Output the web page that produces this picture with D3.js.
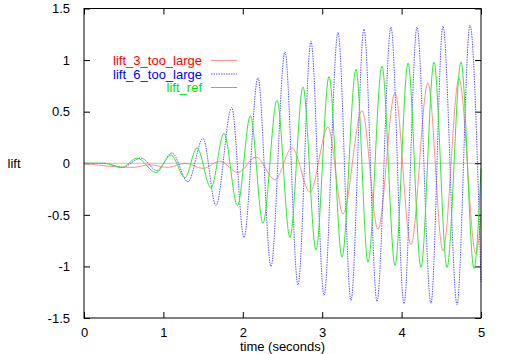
<!DOCTYPE html>
<html>
<head>
<meta charset="utf-8">
<script src="https://cdn.jsdelivr.net/npm/d3@7"></script>
<style>
  body { margin: 0; background: #fff; }
  text { font-family: "Liberation Sans", Arial, sans-serif; font-size: 13px; }
</style>
</head>
<body>
<div id="chart"></div>
<script>
// values (extrema of each trace)
var lift3Time = [0, 0.327, 0.617, 0.831, 1.058, 1.272, 1.499, 1.713, 1.940, 2.166, 2.406, 2.620,
  2.847, 3.073, 3.262, 3.501, 3.703, 3.917, 4.118, 4.332, 4.521, 4.723, 4.937, 5.0];
var lift3Value = [0, -0.03, -0.04, -0.015, -0.04, 0.0, -0.05, 0.02, -0.09, 0.06, -0.16, 0.15,
  -0.28, 0.35, -0.49, 0.51, -0.64, 0.68, -0.79, 0.78, -0.85, 0.82, -0.88, -0.5];

var lift6Time = [0, 0.252, 0.479, 0.718, 0.919, 1.108, 1.310, 1.499, 1.662, 1.860, 2.015, 2.191,
  2.355, 2.531, 2.695, 2.859, 3.023, 3.199, 3.363, 3.526, 3.690, 3.866, 4.030, 4.194, 4.370,
  4.521, 4.698, 4.861, 5.0];
var lift6Value = [0, 0, -0.04, 0.05, -0.07, 0.10, -0.18, 0.24, -0.41, 0.54, -0.72, 0.83,
  -1.00, 1.08, -1.18, 1.18, -1.28, 1.27, -1.33, 1.30, -1.34, 1.32, -1.36, 1.32, -1.36,
  1.33, -1.37, 1.34, -1.15];

var refTime = [0, 0.252, 0.479, 0.668, 0.907, 1.096, 1.272, 1.423, 1.599, 1.763, 1.933, 2.096,
  2.254, 2.431, 2.594, 2.758, 2.922, 3.086, 3.249, 3.426, 3.577, 3.753, 3.917, 4.081, 4.244,
  4.408, 4.572, 4.748, 4.912, 5.0];
var refValue = [0, 0, -0.04, 0.05, -0.09, 0.08, -0.14, 0.15, -0.24, 0.29, -0.41, 0.46,
  -0.58, 0.61, -0.72, 0.74, -0.84, 0.84, -0.91, 0.91, -0.96, 0.94, -0.99, 0.97, -1.01,
  0.98, -1.01, 0.98, -1.02, -0.05];

var xTicks = [0, 1, 2, 3, 4, 5];
var yTicks = [-1.5, -1, -0.5, 0, 0.5, 1, 1.5];

var seriesNames = ["lift_3_too_large", "lift_6_too_large", "lift_ref"];
var seriesColors = ["#ff0000", "#0000ff", "#00e000"];

var margin = {top: 8.5, right: 24, bottom: 36, left: 84},
    width = 505 - margin.left - margin.right,
    height = 354 - margin.top - margin.bottom;

var x = d3.scaleLinear().domain([0, 5]).range([0, width]);
var y = d3.scaleLinear().domain([-1.5, 1.5]).range([height, 0]);

var svg = d3.select("#chart")
  .append("svg")
    .attr("width", 505)
    .attr("height", 354)
  .append("g")
    .attr("transform", "translate(" + margin.left + "," + margin.top + ")");

// zero axis
svg.append("line")
  .attr("x1", 0).attr("x2", width)
  .attr("y1", y(0)).attr("y2", y(0))
  .attr("stroke", "#c0c0c0").attr("stroke-width", 1);

// ticks inward on all four sides (gnuplot style)
var tickLen = 6;
var plain = function(d) { return d; };
svg.append("g").attr("transform", "translate(0," + height + ")")
  .call(d3.axisBottom(x).tickValues(xTicks).tickSizeInner(-tickLen).tickSizeOuter(0).tickPadding(10)
    .tickFormat(plain));
svg.append("g")
  .call(d3.axisTop(x).tickValues(xTicks).tickSizeInner(-tickLen).tickSizeOuter(0).tickFormat(""));
svg.append("g")
  .call(d3.axisLeft(y).tickValues(yTicks).tickSizeInner(-tickLen).tickSizeOuter(0).tickPadding(14)
    .tickFormat(plain));
svg.append("g").attr("transform", "translate(" + width + ",0)")
  .call(d3.axisRight(y).tickValues(yTicks).tickSizeInner(-tickLen).tickSizeOuter(0).tickFormat(""));

svg.selectAll(".domain").remove();
svg.selectAll(".tick line").attr("stroke", "#000");
svg.selectAll(".tick text")
  .style("font-family", "'Liberation Sans', Arial, sans-serif")
  .style("font-size", "13px")
  .attr("fill", "#000");

// lines
var line = d3.line()
  .x(function(d) { return x(d[0]); })
  .y(function(d) { return y(d[1]); })
  .curve(d3.curveMonotoneX);

var series = [
  d3.zip(lift3Time, lift3Value),
  d3.zip(lift6Time, lift6Value),
  d3.zip(refTime, refValue)
];
var strokeStyle = [
  {color: "#ff7474", width: 0.8, dash: null},
  {color: "#5a5aff", width: 1, dash: "1.5,1"},
  {color: "#33e833", width: 1, dash: null}
];

series.forEach(function(s, i) {
  svg.append("path")
    .datum(s)
    .attr("fill", "none")
    .attr("stroke", strokeStyle[i].color)
    .attr("stroke-width", strokeStyle[i].width)
    .attr("stroke-dasharray", strokeStyle[i].dash)
    .attr("d", line);
});

// frame
svg.append("rect")
  .attr("width", width).attr("height", height)
  .attr("fill", "none").attr("stroke", "#000").attr("stroke-width", 1);

// legend
var legend = svg.selectAll(".legend")
  .data(seriesNames)
  .enter().append("g")
    .attr("class", "legend")
    .attr("transform", function(d, i) { return "translate(0," + (52 + i * 13.5) + ")"; });

legend.append("text")
  .attr("x", 118)
  .attr("dy", "0.35em")
  .attr("text-anchor", "end")
  .attr("fill", function(d, i) { return seriesColors[i]; })
  .text(function(d) { return d; });

legend.append("line")
  .attr("x1", 127).attr("x2", 153)
  .attr("stroke", function(d, i) { return strokeStyle[i].color; })
  .attr("stroke-width", function(d, i) { return strokeStyle[i].width; })
  .attr("stroke-dasharray", function(d, i) { return strokeStyle[i].dash; });

// axis labels
svg.append("text")
  .attr("x", width / 2)
  .attr("y", height + 33)
  .attr("text-anchor", "middle")
  .text("time (seconds)");

svg.append("text")
  .attr("x", -70)
  .attr("y", y(0))
  .attr("dy", "0.35em")
  .attr("text-anchor", "middle")
  .text("lift");
</script>
</body>
</html>
